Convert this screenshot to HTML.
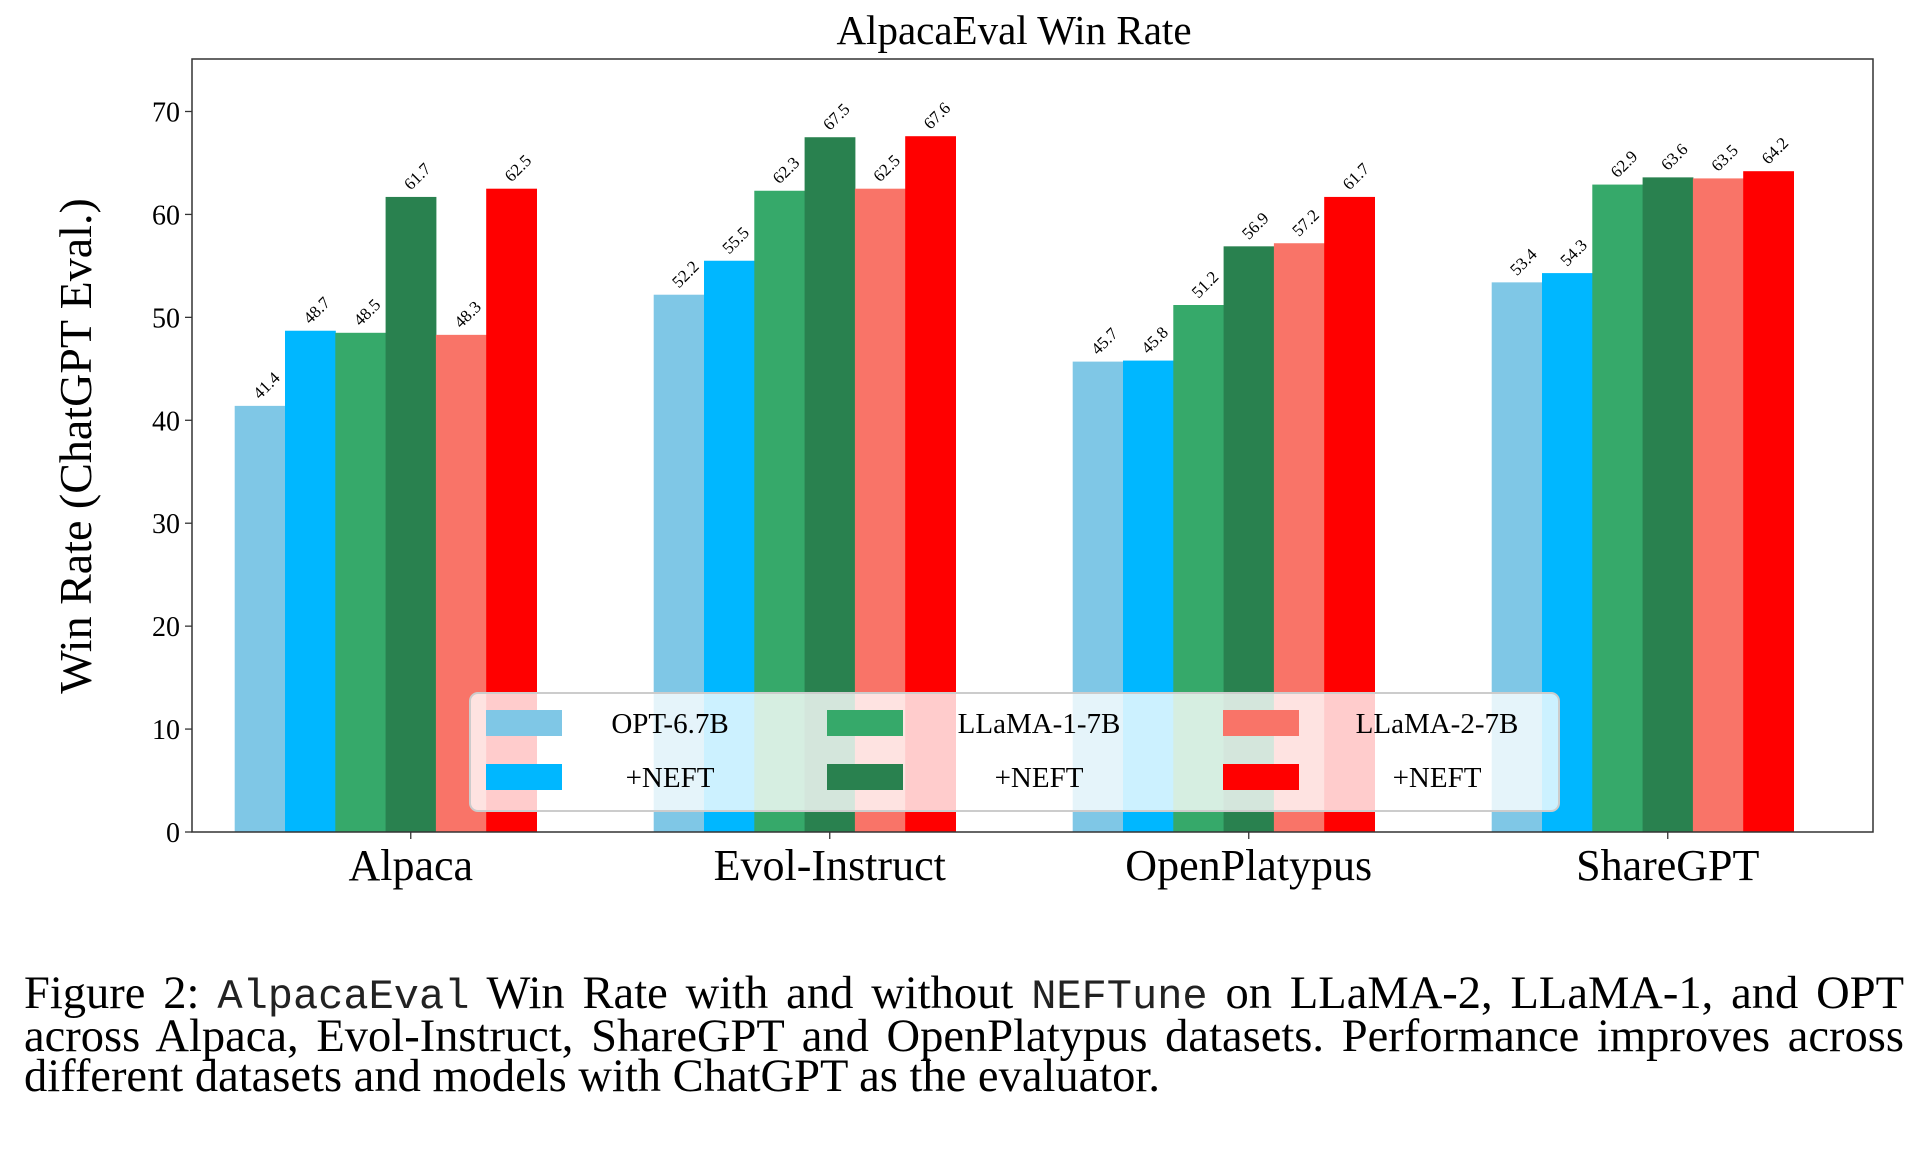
<!DOCTYPE html>
<html><head><meta charset="utf-8"><style>
html,body{margin:0;padding:0;background:#fff;}
body{width:1916px;height:1176px;overflow:hidden;position:relative;}
#cap{position:absolute;left:24px;top:974px;width:1880px;font-family:"Liberation Serif",serif;font-size:46.5px;line-height:40px;color:#000;}
#cap .j{text-align:justify;text-align-last:justify;white-space:nowrap;}
#cap .m{font-family:"Liberation Mono",monospace;font-size:42px;color:#222;}
</style></head><body>
<svg id="chart" width="1916" height="960" style="position:absolute;left:0;top:0" font-family="Liberation Serif, serif"></svg>
<div id="cap">
<div class="j">Figure 2: <span class="m">AlpacaEval</span> Win Rate with and without <span class="m">NEFTune</span> on LLaMA-2, LLaMA-1, and OPT</div>
<div class="j">across Alpaca, Evol-Instruct, ShareGPT and OpenPlatypus datasets. Performance improves across</div>
<div>different datasets and models with ChatGPT as the evaluator.</div>
</div>
<script>
const categories = ["Alpaca","Evol-Instruct","OpenPlatypus","ShareGPT"];
const seriesNames = ["OPT-6.7B","+NEFT","LLaMA-1-7B","+NEFT","LLaMA-2-7B","+NEFT"];
const opt = [41.4,52.2,45.7,53.4];
const optNeft = [48.7,55.5,45.8,54.3];
const llama1 = [48.5,62.3,51.2,62.9];
const llama1Neft = [61.7,67.5,56.9,63.6];
const llama2 = [48.3,62.5,57.2,63.5];
const llama2Neft = [62.5,67.6,61.7,64.2];
const yTicks = [0,10,20,30,40,50,60,70];
const series = [opt,optNeft,llama1,llama1Neft,llama2,llama2Neft];
const colors = ["#7fc7e6","#00b7ff","#36a96a","#29814f","#f97468","#ff0000"];

const svg = document.getElementById('chart');
const NS = "http://www.w3.org/2000/svg";
const L=192,R=1873,T=59,B=832;
const yMax=75.1;
const y = v => B - v/yMax*(B-T);
const groupW = 419, barW = 50.3, firstCenter = 385.6;
const x = (g,i) => firstCenter + g*groupW + (i-3)*barW;
function mk(tag,attrs,parent){const e=document.createElementNS(NS,tag);for(const k in attrs)e.setAttribute(k,attrs[k]);(parent||svg).appendChild(e);return e;}

let t=mk('text',{x:1014,y:44,'font-size':41,'text-anchor':'middle'});t.textContent="AlpacaEval Win Rate";



series.forEach((s,i)=>{
  s.forEach((v,g)=>{
    const r=mk('rect',{x:x(g,i),y:y(v),width:barW+0.5,height:B-y(v),fill:colors[i]});
    
    
    const cx=x(g,i)+barW/2, cy=y(v)-6;
    const lb=mk('text',{x:cx,y:cy,'font-size':17,transform:`rotate(-45 ${cx} ${cy})`});
    lb.textContent=v.toFixed(1);
    
    
  });
});

const ax=mk('rect',{x:L,y:T,width:R-L,height:B-T,fill:'none',stroke:'#333','stroke-width':1.5});



yTicks.forEach(v=>{
  mk('line',{x1:L-7,x2:L,y1:y(v),y2:y(v),stroke:'#333','stroke-width':1.3});
  const tl=mk('text',{x:L-12,y:y(v)+10,'font-size':28,'text-anchor':'end'});tl.textContent=v;
  
  
});
categories.forEach((c,g)=>{
  const tx=firstCenter+g*groupW+barW/2;
  mk('line',{x1:tx,x2:tx,y1:B,y2:B+7,stroke:'#333','stroke-width':1.3});
  const tl=mk('text',{x:tx,y:880,'font-size':44,'text-anchor':'middle'});tl.textContent=c;
  
  
});
const yl=mk('text',{x:0,y:0,'font-size':46,'text-anchor':'middle',transform:'translate(91 446) rotate(-90)'});
yl.textContent="Win Rate (ChatGPT Eval.)";



const lg=mk('g',{});


mk('rect',{x:470,y:693,width:1089,height:118,rx:8,fill:'#fff','fill-opacity':0.8,stroke:'#ccc','stroke-width':2},lg);
const colPatch=[486,827,1223], colText=[670,1039,1437], rowY=[723,777];
seriesNames.forEach((n,i)=>{
  const c=Math.floor(i/2), r=i%2;
  const p=mk('rect',{x:colPatch[c],y:rowY[r]-13,width:76,height:26,fill:colors[i]},lg);
  
  
  const tt=mk('text',{x:colText[c],y:rowY[r]+10,'font-size':29,'text-anchor':'middle'},lg);tt.textContent=n;
  
  
});
</script>
</body></html>
